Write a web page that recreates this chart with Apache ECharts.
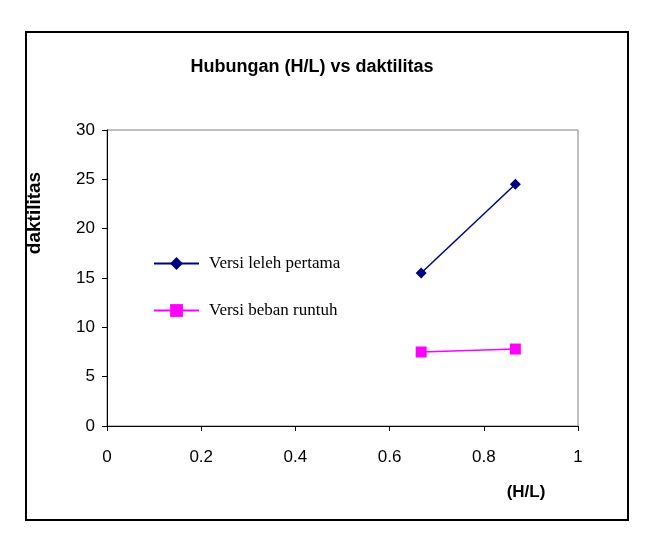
<!DOCTYPE html>
<html>
<head>
<meta charset="utf-8">
<script src="https://cdn.jsdelivr.net/npm/echarts@6/dist/echarts.min.js"></script>
<style>
  html, body { margin: 0; padding: 0; background: #fff; }
  #main { width: 645px; height: 538px; }
</style>
</head>
<body>
<div id="main"></div>
<script>
// data
var hl = [0.667, 0.867];
var leleh = [15.5, 24.5];
var runtuh = [7.5, 7.8];
var seriesNames = ['Versi leleh pertama', 'Versi beban runtuh'];

function pairs(xs, ys) {
  return xs.map(function (x, i) { return [x, ys[i]]; });
}

var chart = echarts.init(document.getElementById('main'));

chart.setOption({
  backgroundColor: '#fff',
  animation: false,
  title: {
    text: 'Hubungan (H/L) vs daktilitas',
    left: 307,
    top: 53,
    textAlign: 'center',
    textStyle: {
      fontFamily: 'Liberation Sans, Arial',
      fontWeight: 'bold',
      fontSize: 18,
      color: '#000'
    }
  },
  legend: {
    orient: 'vertical',
    left: 148,
    top: 250,
    itemWidth: 45,
    itemHeight: 16,
    itemGap: 30,
    textStyle: {
      fontFamily: 'Liberation Serif, Times New Roman',
      fontSize: 17,
      color: '#000',
      padding: [0, 0, 0, 5]
    },
    data: seriesNames
  },
  grid: {
    left: 107,
    top: 130,
    right: 67,
    bottom: 112,
    show: true,
    borderColor: '#808080',
    borderWidth: 1
  },
  xAxis: {
    type: 'value',
    min: 0,
    max: 1,
    interval: 0.2,
    axisLine: { lineStyle: { color: '#000', width: 1 } },
    axisTick: { show: true, length: 5, lineStyle: { color: '#000' } },
    splitLine: { show: false },
    axisLabel: {
      margin: 23,
      fontFamily: 'Liberation Sans, Arial',
      fontSize: 17,
      color: '#000'
    }
  },
  yAxis: {
    type: 'value',
    min: 0,
    max: 30,
    interval: 5,
    axisLine: { show: true, lineStyle: { color: '#000', width: 1 } },
    axisTick: { show: true, length: 5, lineStyle: { color: '#000' } },
    splitLine: { show: false },
    axisLabel: {
      margin: 12,
      fontFamily: 'Liberation Sans, Arial',
      fontSize: 17,
      color: '#000'
    }
  },
  graphic: [
    {
      type: 'rect',
      shape: { x: 26, y: 32, width: 602, height: 488 },
      style: { fill: null, stroke: '#000', lineWidth: 2 },
      silent: true
    },
    {
      type: 'text',
      x: 35,
      y: 213,
      rotation: Math.PI / 2,
      style: {
        text: 'daktilitas',
        font: 'bold 19px Liberation Sans, Arial',
        fill: '#000',
        textAlign: 'center',
        textVerticalAlign: 'middle'
      }
    },
    {
      type: 'text',
      x: 526,
      y: 492,
      style: {
        text: '(H/L)',
        font: 'bold 17px Liberation Sans, Arial',
        fill: '#000',
        textAlign: 'center',
        textVerticalAlign: 'middle'
      }
    }
  ],
  series: [
    {
      name: seriesNames[0],
      type: 'line',
      data: pairs(hl, leleh),
      symbol: 'diamond',
      symbolSize: 11,
      itemStyle: { color: '#000080' },
      lineStyle: { color: '#000080', width: 1.5 }
    },
    {
      name: seriesNames[1],
      type: 'line',
      data: pairs(hl, runtuh),
      symbol: 'rect',
      symbolSize: 11,
      itemStyle: { color: '#ff00ff' },
      lineStyle: { color: '#ff00ff', width: 1.5 }
    }
  ]
});
</script>
</body>
</html>
